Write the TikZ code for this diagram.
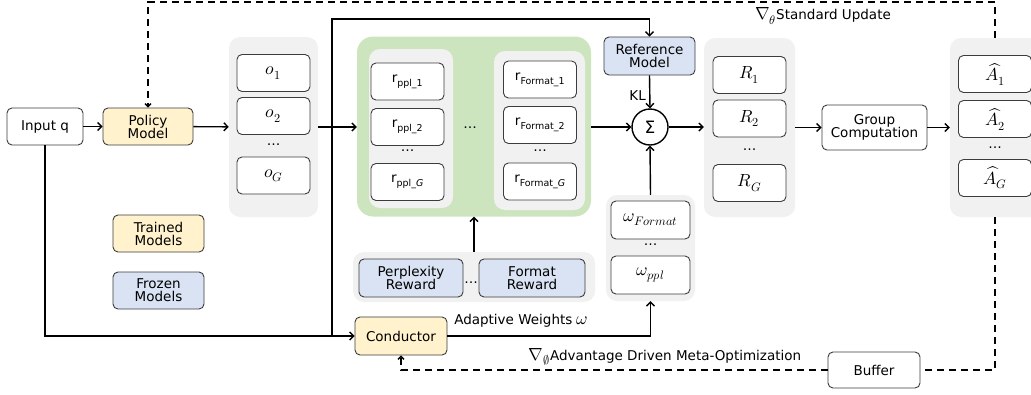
\documentclass[tikz,border=0pt]{standalone}
\usepackage{amsmath}
\usepackage{fontspec}
\usepackage{unicode-math}
\setmainfont{DejaVu Sans}
\setmathfont{Latin Modern Math}[Scale=1.3]
\usepackage{xcolor}
\usetikzlibrary{arrows.meta}

\definecolor{giallo}{HTML}{FFF2CC}
\definecolor{blu}{HTML}{DAE3F3}
\definecolor{verde}{HTML}{CCE5BF}
\definecolor{grigio}{HTML}{F1F1F1}
\definecolor{bordo}{HTML}{3C3C3C}

\tikzset{
  scatola/.style={draw=bordo, line width=0.9pt, rounded corners=5pt, fill=white,
    minimum width=73pt, minimum height=37pt, inner sep=1pt, align=center},
  gruppo/.style={fill=grigio, rounded corners=11pt, inner sep=0pt},
  freccia/.style={line width=1.4pt, -{Straight Barb[length=4pt,width=8pt]}},
  linea/.style={line width=1.4pt},
  tratt/.style={line width=1.4pt, dash pattern=on 7pt off 5pt},
}

\begin{document}
\begin{tikzpicture}[x=1pt, y=-1pt, font=\fontsize{13.5}{15}\selectfont]
        \useasboundingbox (0,0) rectangle (1031,394);

        % Gruppi di sfondo
        \node[gruppo, minimum width=89pt, minimum height=180pt] (og) at (273.5,127) {};
        \node[fill=verde, rounded corners=16pt, minimum width=234pt, minimum height=180pt] (gb) at (474,126.5) {};
        \node[gruppo, minimum width=84pt, minimum height=159pt] (gl) at (411,128.5) {};
        \node[gruppo, minimum width=91pt, minimum height=159pt] (gr) at (539.5,130.5) {};
        \node[gruppo, minimum width=91pt, minimum height=179pt] (Rg) at (749.5,127.5) {};
        \node[gruppo, minimum width=95pt, minimum height=179pt] (ag) at (997.5,127.5) {};
        \node[gruppo, minimum width=242pt, minimum height=50pt] (rwg) at (474,277) {};
        \node[gruppo, minimum width=89pt, minimum height=106pt] (omg) at (650.5,248) {};

        % Ingresso e modello
        \node[scatola, minimum width=76pt] (inq) at (45,126.5) {Input q};
        \node[scatola, fill=giallo, minimum width=90pt] (pm) at (148,126.5) {Policy\\[-2pt]Model};

        % Uscite o
        \node[scatola] (o1) at (273.5,73) {$o_1$};
        \node[scatola] (o2) at (273.5,116) {$o_2$};
        \node (od) at (273.5,145) {\dots};
        \node[scatola] (oG) at (273.5,175.5) {$o_G$};

        % Ricompense
        \node[scatola] (r1) at (407.5,81.5) {r$_{\text{ppl\_1}}$};
        \node[scatola] (r2) at (407.5,127) {r$_{\text{ppl\_2}}$};
        \node (rd) at (407.5,151) {\dots};
        \node[scatola] (rG) at (407.5,182) {r$_{\text{ppl\_}\mathit{G}}$};
        \node (md) at (470,128) {\dots};
        \node[scatola] (rF1) at (540,79.5) {r$_{\text{Format\_1}}$};
        \node[scatola] (rF2) at (540,125) {r$_{\text{Format\_2}}$};
        \node (rFd) at (540,151) {\dots};
        \node[scatola] (rFG) at (540,181.5) {r$_{\text{Format\_}\mathit{G}}$};

        % Riferimento e somma
        \node[scatola, fill=blu, minimum width=91pt, minimum height=38pt] (ref) at (649.5,56) {Reference\\[-2pt]Model};
        \node[draw, circle, line width=1.4pt, minimum size=36pt, inner sep=0pt, font=\fontsize{17}{17}\selectfont] (sum) at (650,127) {Σ};

        % Ricompense R
        \node[scatola] (R1) at (749.5,75) {$R_1$};
        \node[scatola] (R2) at (749.5,118.5) {$R_2$};
        \node (Rd) at (749.5,150) {\dots};
        \node[scatola] (RG) at (749.5,183) {$R_G$};

        % Gruppo e vantaggi
        \node[scatola, minimum width=105pt, minimum height=45pt] (gc) at (874.5,127.5) {Group\\[-2pt]Computation};
        \node[scatola] (a1) at (995,74) {$\widehat{A}_1$};
        \node[scatola] (a2) at (995,119) {$\widehat{A}_2$};
        \node (ad) at (995,148) {\dots};
        \node[scatola] (aG) at (995,178) {$\widehat{A}_G$};

        % Funzioni di ricompensa
        \node[scatola, fill=blu, minimum width=104pt, minimum height=38pt] (pr) at (411,278) {Perplexity\\[-2pt]Reward};
        \node[scatola, fill=blu, minimum width=106pt, minimum height=38pt] (fr) at (532,278) {Format\\[-2pt]Reward};
        \node (prd) at (471,283) {\dots};

        % Pesi
        \node[scatola, minimum width=79pt, minimum height=38pt] (wF) at (650.5,220) {$\omega_{Format}$};
        \node (wd) at (650.5,245) {\dots};
        \node[scatola, minimum width=79pt, minimum height=38pt] (wp) at (650.5,275) {$\omega_{ppl}$};

        % Legenda
        \node[scatola, fill=giallo, minimum width=91pt] (tm) at (158.5,233.5) {Trained\\[-2pt]Models};
        \node[scatola, fill=blu, minimum width=91pt] (fm) at (158.5,290.5) {Frozen\\[-2pt]Models};

        % Conductor e buffer
        \node[scatola, fill=giallo, minimum width=92pt, minimum height=38pt] (cond) at (401,336) {Conductor};
        \node[scatola, minimum width=92pt, minimum height=36pt] (buf) at (874,370) {Buffer};

        % Collegamenti
        \draw[freccia] (inq) -- (pm);
        \draw[freccia] (pm) -- (og);
        \draw[freccia] (og.east |- 0,127) -- (gb.west |- 0,127);
        \draw[freccia] (inq.south) |- (cond.west);
        \coordinate (split) at (332,336);
        \coordinate (topR) at (332,19);
        \draw[freccia] (split) -- (topR) -| (ref.north);
        \draw[freccia] (gb.east |- sum) -- (sum.west);
        \draw[freccia] (ref.south) -- node[left, pos=0.6] {KL} (sum.north);
        \draw[freccia] (sum.east) -- (Rg.west |- sum);
        \draw[freccia] (Rg.east |- gc) -- (gc.west);
        \draw[freccia] (gc.east) -- (ag.west |- gc);
        \draw[freccia] (omg.north) -- (sum.south);
        \draw[freccia] (rwg.north) -- (gb.south);
        \draw[freccia] (cond.east) -| (omg.south);
        \node (law) at (521,321) {Adaptive Weights $\omega$};

        % Aggiornamenti tratteggiati
        \coordinate (upd) at (995,2);
        \draw[tratt, -{Straight Barb[length=3pt,width=6pt]}] (a1 |- ag.north) -- (upd) -| (pm.north);
        \draw[tratt] (a1 |- ag.south) |- (buf.east);
        \draw[tratt, -{Straight Barb[length=3pt,width=6pt]}] (buf.west) -| (cond.south);
        \node (lstd) at (823,16) {$\nabla_\theta$Standard Update};
        \node (lmeta) at (665,357) {$\nabla_\emptyset$Advantage Driven Meta-Optimization};
    \end{tikzpicture}
\end{document}
